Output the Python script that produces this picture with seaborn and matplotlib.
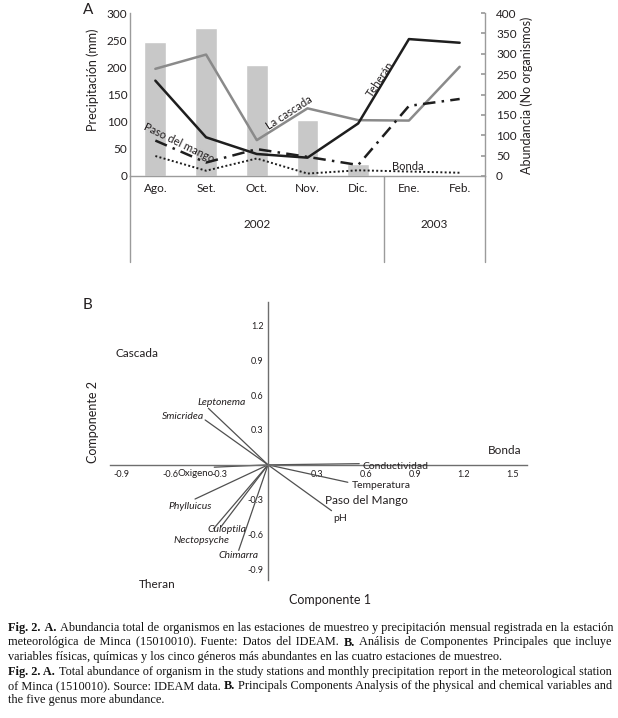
import numpy as np
import pandas as pd
import matplotlib
matplotlib.use("Agg")
import matplotlib.pyplot as plt
import matplotlib.transforms as mtransforms
import seaborn as sns

# ---------------------------------------------------------------
# Panel A data: precipitation (mm) and abundance per station
# ---------------------------------------------------------------
months = ["Ago.", "Set.", "Oct.", "Nov.", "Dic.", "Ene.", "Feb."]
years = ["2002", "2003"]
precip = [246, 272, 204, 103, 23, 0, 0]
teheran = [234, 95, 54, 45, 129, 336, 327]
cascada = [263, 298, 88, 166, 137, 136, 268]
paso = [87, 33, 66, 47, 27, 172, 189]
bonda = [49, 13, 43, 6, 14, 11, 8]

# ---------------------------------------------------------------
# Panel B data: PCA loadings (vectors) and site scores
# ---------------------------------------------------------------
vec_names = ["Leptonema", "Smicridea", "Oxigeno", "Conductividad", "Temperatura",
             "pH", "Phylluicus", "Culoptila", "Nectopsyche", "Chimarra"]
vec_x = [-0.366, -0.386, -0.33, 0.56, 0.49, 0.39, -0.448, -0.29, -0.335, -0.18]
vec_y = [0.486, 0.386, -0.02, 0.01, -0.15, -0.394, -0.294, -0.535, -0.55, -0.735]
site_names = ["Cascada", "Bonda", "Theran", "Paso del Mango"]
site_x = [-0.807, 1.45, -0.683, 0.605]
site_y = [0.958, 0.12, -1.03, -0.31]
genera = ["Leptonema", "Smicridea", "Phylluicus", "Culoptila", "Nectopsyche", "Chimarra"]

caption = [
    "Fig. 2. A. Abundancia total de organismos en las estaciones de muestreo y precipitación mensual registrada en la estación",
    "meteorológica de Minca (15010010). Fuente: Datos del IDEAM. B. Análisis de Componentes Principales que incluye",
    "variables físicas, químicas y los cinco géneros más abundantes en las cuatro estaciones de muestreo.",
    "Fig. 2. A. Total abundance of organism in the study stations and monthly precipitation report in the meteorological station",
    "of Minca (1510010). Source: IDEAM data. B. Principals Components Analysis of the physical and chemical variables and",
    "the five genus more abundance.",
]

W, H = 618, 718
sns.set_theme(style="white")
plt.rcParams['font.family'] = ['Lato', 'DejaVu Sans']

ink = "#231f20"
grey = "#9b9b9b"

fig = plt.figure(figsize=(W / 100, H / 100), dpi=100)


def fx(x):
    return x / W


def fy(y):
    return 1 - y / H


# ─────────────────────────────────────────────
# PANEL A
# ─────────────────────────────────────────────
axA = fig.add_axes([fx(130), fy(176), fx(485) - fx(130), fy(13) - fy(176)])
sns.barplot(x=months, y=precip, order=months, color="#c8c8c8", saturation=1,
            width=0.43, ax=axA)
axA.set_xlim(-0.5, 6.5)
axA.set_ylim(0, 300)
axA.set_yticks(range(0, 301, 50))
axA.set_xlabel("")
axA.set_ylabel("")

ax2 = axA.twinx()
xpos = np.arange(len(months))
sns.lineplot(x=xpos, y=cascada, ax=ax2, color="#8a8a8a", lw=1.8)
sns.lineplot(x=xpos, y=teheran, ax=ax2, color="#1e1e1e", lw=1.8)
sns.lineplot(x=xpos, y=paso, ax=ax2, color="#1e1e1e", lw=1.8,
             linestyle=(0, (5, 2.5, 1, 2.5)))
sns.lineplot(x=xpos, y=bonda, ax=ax2, color="#1e1e1e", lw=1.4,
             linestyle=(0, (1, 1.2)))
ax2.set_ylim(0, 400)
ax2.set_yticks(range(0, 401, 50))
ax2.set_xlim(-0.5, 6.5)

for a in (axA, ax2):
    for s in a.spines.values():
        s.set_visible(False)
axA.spines['left'].set_visible(True)
axA.spines['bottom'].set_visible(True)
ax2.spines['right'].set_visible(True)
for s in (axA.spines['left'], axA.spines['bottom'], ax2.spines['right']):
    s.set_color(grey)
    s.set_linewidth(1)

axA.tick_params(axis='y', length=0, pad=2, labelsize=8.5, labelcolor=ink)
axA.tick_params(axis='x', length=0, pad=5, labelsize=8.5, labelcolor=ink)
ax2.tick_params(axis='y', direction='in', length=3, color=grey, pad=8,
                labelsize=8.5, labelcolor=ink)

# lines below the category axis and year labels
blend = mtransforms.blended_transform_factory(axA.transData, axA.transAxes)
for xv in (-0.5, 4.5, 6.5):
    axA.plot([xv, xv], [0, -0.53], transform=blend, clip_on=False,
             color=grey, lw=1)
axA.text(2, -0.295, years[0], transform=blend, ha='center', va='center',
         fontsize=8.5, color=ink)
axA.text(5.5, -0.295, years[1], transform=blend, ha='center', va='center',
         fontsize=8.5, color=ink)

# series labels
ax2.text(0.47, 82, "Paso del mango", rotation=-26, ha='center', va='center',
         fontsize=8, color=ink)
ax2.text(2.64, 155, "La cascada", rotation=33, ha='center', va='center',
         fontsize=8, color=ink)
ax2.text(4.43, 238, "Teherán", rotation=56, ha='center', va='center',
         fontsize=8, color=ink)
ax2.text(4.98, 23, "Bonda", ha='center', va='center', fontsize=8, color=ink)

fig.text(fx(93), fy(80), "Precipitación (mm)", rotation=90, ha='center',
         va='center', fontsize=9, color=ink)
fig.text(fx(527), fy(95), "Abundancia (No organismos)", rotation=90,
         ha='center', va='center', fontsize=9, color=ink)
fig.text(fx(88), fy(10), "A", ha='center', va='center', fontsize=11, color=ink)

# ─────────────────────────────────────────────
# PANEL B
# ─────────────────────────────────────────────
axB = fig.add_axes([fx(110), fy(580), fx(527) - fx(110), fy(302) - fy(580)])
axB.set_facecolor("none")

rows = []
for n, x, y in zip(vec_names, vec_x, vec_y):
    rows.append({"name": n, "x": 0.0, "y": 0.0})
    rows.append({"name": n, "x": x, "y": y})
vec_df = pd.DataFrame(rows)
sns.lineplot(data=vec_df, x="x", y="y", units="name", estimator=None,
             sort=False, color="#505050", lw=0.9, ax=axB)

axB.set_xlim(-0.97, 1.59)
axB.set_ylim(-0.99, 1.40)
axB.set_xlabel("")
axB.set_ylabel("")
axB.spines['left'].set_position(('data', 0))
axB.spines['bottom'].set_position(('data', 0))
axB.spines['top'].set_visible(False)
axB.spines['right'].set_visible(False)
for s in ('left', 'bottom'):
    axB.spines[s].set_color("#6e6e6e")
    axB.spines[s].set_linewidth(1)
xt = [-0.9, -0.6, -0.3, 0.3, 0.6, 0.9, 1.2, 1.5]
yt = [-0.9, -0.6, -0.3, 0.3, 0.6, 0.9, 1.2]
axB.set_xticks(xt, [f"{v:.1f}" for v in xt])
axB.set_yticks(yt, [f"{v:.1f}" for v in yt])
axB.tick_params(length=0, labelsize=6.5, labelcolor=ink)
axB.tick_params(axis='x', pad=4)
axB.tick_params(axis='y', pad=3)

# label placement for the vectors (layout only)
vec_label_pos = {
    "Leptonema": (-0.284, 0.533),
    "Smicridea": (-0.523, 0.415),
    "Oxigeno": (-0.445, -0.075),
    "Conductividad": (0.78, -0.015),
    "Temperatura": (0.697, -0.178),
    "pH": (0.442, -0.458),
    "Phylluicus": (-0.479, -0.358),
    "Culoptila": (-0.252, -0.553),
    "Nectopsyche": (-0.407, -0.649),
    "Chimarra": (-0.184, -0.782),
}
for n in vec_names:
    lx, ly = vec_label_pos[n]
    axB.text(lx, ly, n, ha='center', va='center',
             fontsize=7 if n == "Oxigeno" else 7.5, color=ink,
             style='italic' if n in genera else 'normal', clip_on=False)
for n, x, y in zip(site_names, site_x, site_y):
    axB.text(x, y, n, ha='center', va='center', fontsize=8.5, color=ink,
             clip_on=False)

fig.text(fx(93), fy(422), "Componente 2", rotation=90, ha='center',
         va='center', fontsize=9, color=ink)
fig.text(fx(330), fy(600), "Componente 1", ha='center', va='center',
         fontsize=9, color=ink)
fig.text(fx(88), fy(305), "B", ha='center', va='center', fontsize=11, color=ink)

# ─────────────────────────────────────────────
# CAPTION  (one text per bold/normal run; justified with hair spaces)
# ─────────────────────────────────────────────
renderer = fig.canvas.get_renderer()
bold_words = {"Fig.", "2.", "A.", "B."}
cap_size = 8.8
cap_font = ['Liberation Serif', 'DejaVu Serif']
HAIR = "\u200a"
x_left, x_right = 8, 612
line_base = [631, 645.5, 660, 674.5, 689, 703.5]
justify = [True, True, False, True, True, False]


def text_w(s, bold=False):
    t = fig.text(0, 0, s, fontsize=cap_size, family=cap_font,
                 fontweight='bold' if bold else 'normal')
    w = t.get_window_extent(renderer).width
    t.remove()
    return w


hair_w = (text_w("x" + HAIR * 20 + "x") - text_w("xx")) / 20
space_w = text_w("x x") - text_w("xx")

for text, yy, just in zip(caption, line_base, justify):
    # group consecutive words into bold / normal runs
    runs = []
    for w in text.split(" "):
        b = w in bold_words
        if runs and runs[-1][1] == b:
            runs[-1][0].append(w)
        else:
            runs.append([[w], b])
    n_gaps = sum(len(r[0]) - 1 for r in runs) + len(runs) - 1
    natural = sum(text_w(" ".join(r[0]), r[1]) for r in runs) + (len(runs) - 1) * space_w
    per_gap = (x_right - x_left - natural) / hair_w / n_gaps if just else 0.0
    counts = [int(round((i + 1) * per_gap) - round(i * per_gap)) for i in range(n_gaps)]

    gi = 0
    x = x_left
    for ri, (words, b) in enumerate(runs):
        s = words[0]
        for w in words[1:]:
            s += " " + HAIR * counts[gi] + w
            gi += 1
        t = fig.text(fx(x), fy(yy), s, fontsize=cap_size, family=cap_font,
                     fontweight='bold' if b else 'normal',
                     color="#111111", va='baseline', ha='left')
        x += t.get_window_extent(renderer).width
        if ri < len(runs) - 1:
            x += space_w + counts[gi] * hair_w
            gi += 1

fig.savefig("out.png", dpi=100)
